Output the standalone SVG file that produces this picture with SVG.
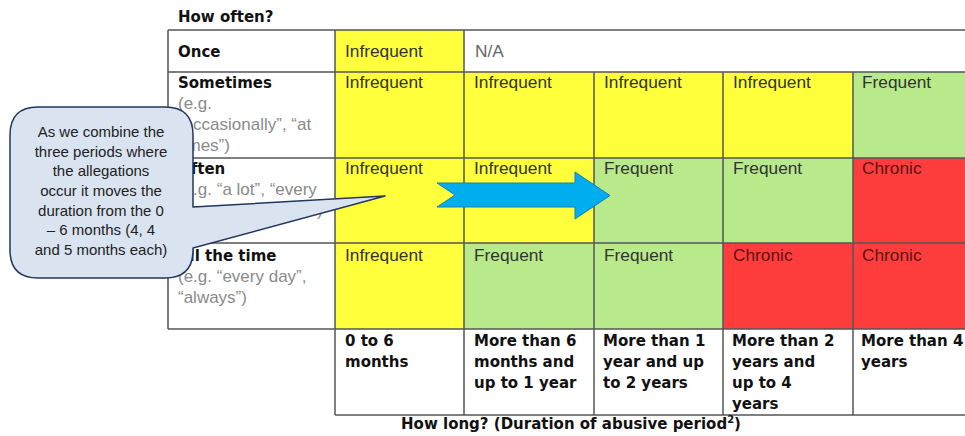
<svg xmlns="http://www.w3.org/2000/svg" width="965" height="436" viewBox="0 0 965 436">
<style>
.bg{fill:#ffffff}
.y{fill:#FFFF3B}
.g{fill:#B8E98A}
.r{fill:#FF3D3D}
.w{fill:#ffffff}
.ln{stroke:#555;stroke-width:1.5;fill:none}
.cell{font-family:"Liberation Sans",Arial,sans-serif;font-size:17.3px;fill:#333}
.chr{fill:#5c1212}
.na{fill:#666}
.hd{font-family:"DejaVu Sans",Verdana,sans-serif;font-weight:bold;font-size:15px;fill:#111}
.sub{font-family:"Liberation Sans",Arial,sans-serif;font-size:17px;fill:#8a8a8a}
.call{font-family:"Liberation Sans",Arial,sans-serif;font-size:15px;fill:#222;text-anchor:middle}
</style>
<rect class="bg" x="0" y="0" width="965" height="436"/>

<text class="hd" x="178" y="22">How often?</text>

<g id="cells">
  <rect class="y" x="335" y="30" width="129" height="42"/>
  <rect class="w" x="464" y="30" width="501" height="42"/>
  <rect class="y" x="335" y="72" width="518" height="86"/>
  <rect class="g" x="853" y="72" width="112" height="86"/>
  <rect class="y" x="335" y="158" width="259" height="85"/>
  <rect class="g" x="594" y="158" width="259" height="85"/>
  <rect class="r" x="853" y="158" width="112" height="85"/>
  <rect class="y" x="335" y="243" width="129" height="86"/>
  <rect class="g" x="464" y="243" width="259" height="86"/>
  <rect class="r" x="723" y="243" width="242" height="86"/>
</g>

<g id="grid">
  <path class="ln" d="M168,30 H965 M168,72 H965 M168,158 H965 M168,243 H965 M168,329 H965 M335,415 H965"/>
  <path class="ln" d="M168,30 V329 M335,30 V415 M464,30 V415 M594,72 V415 M723,72 V415 M853,72 V415"/>
</g>

<g id="row-labels">
  <text class="hd" x="178" y="57">Once</text>
  <text class="hd" x="178" y="88">Sometimes</text>
  <text class="sub" x="178" y="109">(e.g.</text>
  <text class="sub" x="178" y="130">“occasionally”, “at</text>
  <text class="sub" x="178" y="151">times”)</text>
  <text class="hd" x="178" y="174">Often</text>
  <text class="sub" x="178" y="195">(e.g. “a lot”, “every</text>
  <text class="sub" x="317" y="216">)</text>
  <text class="hd" x="178" y="261">All the time</text>
  <text class="sub" x="178" y="282">(e.g. “every day”,</text>
  <text class="sub" x="178" y="303">“always”)</text>
</g>

<g id="cell-text">
  <text class="cell" x="345" y="57">Infrequent</text>
  <text class="cell na" x="475" y="57">N/A</text>
  <text class="cell" x="345" y="88">Infrequent</text>
  <text class="cell" x="474" y="88">Infrequent</text>
  <text class="cell" x="604" y="88">Infrequent</text>
  <text class="cell" x="733" y="88">Infrequent</text>
  <text class="cell" x="862" y="88">Frequent</text>
  <text class="cell" x="345" y="174">Infrequent</text>
  <text class="cell" x="474" y="174">Infrequent</text>
  <text class="cell" x="604" y="174">Frequent</text>
  <text class="cell" x="733" y="174">Frequent</text>
  <text class="cell chr" x="862" y="174">Chronic</text>
  <text class="cell" x="345" y="261">Infrequent</text>
  <text class="cell" x="474" y="261">Frequent</text>
  <text class="cell" x="604" y="261">Frequent</text>
  <text class="cell chr" x="733" y="261">Chronic</text>
  <text class="cell chr" x="862" y="261">Chronic</text>
</g>

<g id="duration-labels">
  <text class="hd" x="345" y="346">0 to 6</text>
  <text class="hd" x="345" y="367">months</text>
  <text class="hd" x="474" y="346">More than 6</text>
  <text class="hd" x="474" y="367">months and</text>
  <text class="hd" x="474" y="388">up to 1 year</text>
  <text class="hd" x="603" y="346">More than 1</text>
  <text class="hd" x="603" y="367">year and up</text>
  <text class="hd" x="603" y="388">to 2 years</text>
  <text class="hd" x="732" y="346">More than 2</text>
  <text class="hd" x="732" y="367">years and</text>
  <text class="hd" x="732" y="388">up to 4</text>
  <text class="hd" x="732" y="409">years</text>
  <text class="hd" x="861" y="346">More than 4</text>
  <text class="hd" x="861" y="367">years</text>
</g>

<text class="hd" x="571" y="429" text-anchor="middle">How long? (Duration of abusive period<tspan font-size="10" dy="-6">2</tspan><tspan dy="6">)</tspan></text>

<g id="connectors">
  <path id="arrow" d="M437,183 H575 V172 L610,195.5 L575,219 V207 H437 L455,195 Z" fill="#00AEEF" stroke="#1B7FB0" stroke-width="1"/>
</g>

<g id="callout">
  <path d="M38,107 H165 Q193,107 193,135 V207 L385,196 L193,248 V250 Q193,278 165,278 H38 Q10,278 10,250 V135 Q10,107 38,107 Z" fill="#DAE4F1" stroke="#22365E" stroke-width="1.5" stroke-linejoin="round"/>
  <text class="call" x="101" y="137">As we combine the</text>
  <text class="call" x="101" y="156.7">three periods where</text>
  <text class="call" x="101" y="176.3">the allegations</text>
  <text class="call" x="101" y="196">occur it moves the</text>
  <text class="call" x="101" y="215.7">duration from the 0</text>
  <text class="call" x="101" y="235.3">– 6 months (4, 4</text>
  <text class="call" x="101" y="255">and 5 months each)</text>
</g>
</svg>
